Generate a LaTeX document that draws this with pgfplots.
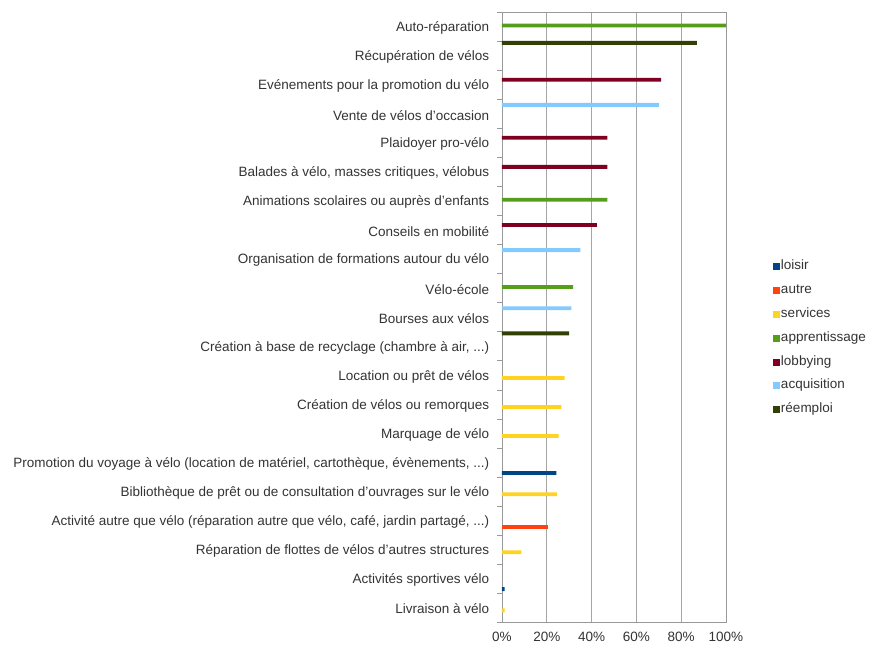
\documentclass[border=0pt]{standalone}
\usepackage{fontspec}
\setmainfont{Liberation Sans}
\usepackage{pgfplots}
\pgfplotsset{compat=1.18}
\definecolor{loisir}{HTML}{004586}
\definecolor{autre}{HTML}{FF420E}
\definecolor{services}{HTML}{FFD320}
\definecolor{apprentissage}{HTML}{579D1C}
\definecolor{lobbying}{HTML}{7E0021}
\definecolor{acquisition}{HTML}{83CAFF}
\definecolor{reemploi}{HTML}{314004}
\definecolor{txt}{HTML}{333333}
\newcommand{\dd}{.\kern0pt.\kern0pt.}
\begin{document}
\begin{tikzpicture}
\begin{axis}[
  scale only axis,
  width=224pt, height=610pt,
  xmin=0, xmax=100,
  ymin=-0.5, ymax=20.5,
  y dir=reverse,
  xtick={0,20,...,100},
  xticklabel={\pgfmathprintnumber{\tick}\%},
  /pgf/number format/assume math mode=true,
  xmajorgrids,
  grid style={draw=black!35, line width=0.6pt},
  axis line style={draw=black!40, line width=0.6pt},
  x tick style={draw=none},
  ytick pos=left, xtick pos=bottom,
  ytick={0,...,20},
  major y tick style={draw=none},
  minor ytick={-0.5,0.5,...,20.5},
  minor y tick style={draw=black!40},
  minor tick length=5pt,
  tick align=outside,
  yticklabels={{Auto-réparation},{Récupération de vélos},{Evénements pour la promotion du vélo},{Vente de vélos d'occasion},{Plaidoyer pro-vélo},{Balades à vélo, masses critiques, vélobus},{Animations scolaires ou auprès d'enfants},{Conseils en mobilité},{Organisation de formations autour du vélo},{Vélo-école},{Bourses aux vélos},{Création à base de recyclage (chambre à air, \dd)},{Location ou prêt de vélos},{Création de vélos ou remorques},{Marquage de vélo},{Promotion du voyage à vélo (location de matériel, cartothèque, évènements, \dd)},{Bibliothèque de prêt ou de consultation d'ouvrages sur le vélo},{Activité autre que vélo (réparation autre que vélo, café, jardin partagé, \dd)},{Réparation de flottes de vélos d'autres structures},{Activités sportives vélo},{Livraison à vélo}},
  ticklabel style={font=\fontsize{13.5}{15}\selectfont, text=txt},
  y tick label style={xshift=-5pt, yshift=-1.5pt},
  x tick label style={yshift=-2pt},
  xbar, bar width=3.8pt,
  every axis plot/.append style={draw=none},
  legend style={draw=none, fill=none, at={(1,0.465)}, anchor=west, xshift=44pt,
    font=\fontsize{13.5}{15}\selectfont, text=txt, row sep=9.8pt,
    nodes={inner sep=1pt, text height=9pt, text depth=3pt}},
  legend cell align=left,
  legend image code/.code={\fill[#1] (0pt,-3.5pt) rectangle (6.8pt,3.5pt);},
]
\addplot[fill=loisir, bar shift=-10.7pt] coordinates {(24.3,15) (1.2,19)};
\addplot[fill=autre, bar shift=-6.8pt] coordinates {(20.5,17)};
\addplot[fill=services, bar shift=-2.9pt] coordinates {(28,12) (26.5,13) (25.3,14) (24.5,16) (8.7,18) (1.2,20)};
\addplot[fill=apprentissage, bar shift=1pt] coordinates {(100,0) (47,6) (31.7,9)};
\addplot[fill=lobbying, bar shift=4.9pt] coordinates {(71,2) (47,4) (47,5) (42.4,7)};
\addplot[fill=acquisition, bar shift=8.8pt] coordinates {(70,3) (35,8) (31,10)};
\addplot[fill=reemploi, bar shift=12.7pt] coordinates {(87,1) (30,11)};
\legend{loisir,autre,services,apprentissage,lobbying,acquisition,réemploi}
\end{axis}
\path (current axis.south west) ++(-502pt,-29pt) rectangle ++(873pt,651pt);
\end{tikzpicture}
\end{document}
